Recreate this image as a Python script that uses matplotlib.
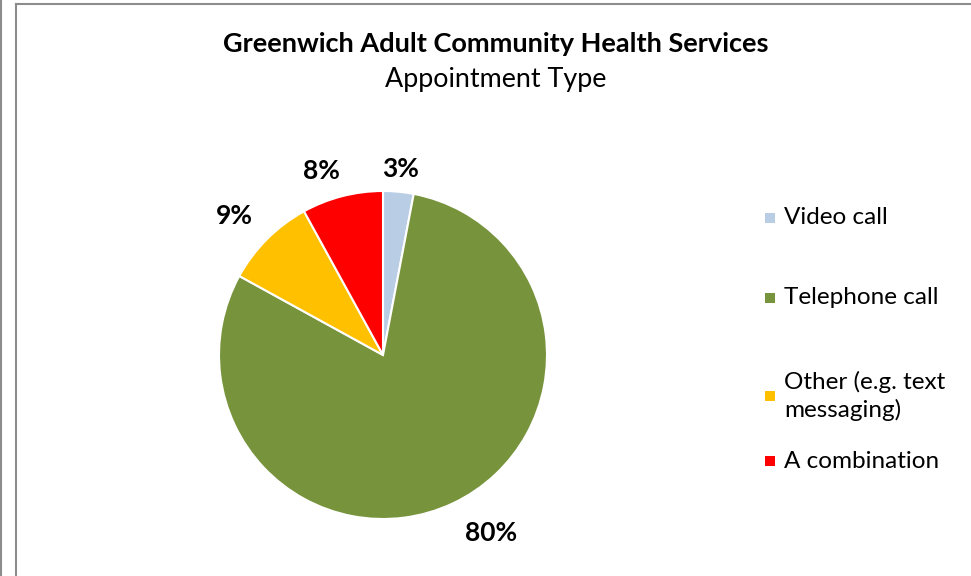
import numpy as np
import matplotlib
matplotlib.use("Agg")
import matplotlib.pyplot as plt
from matplotlib.patches import Rectangle
from matplotlib.lines import Line2D

categories = ["Video call", "Telephone call", "Other (e.g. text\nmessaging)", "A combination"]
values = [3, 80, 9, 8]
pct_labels = ["3%", "80%", "9%", "8%"]
colors = ["#B9CDE5", "#77933C", "#FFC000", "#FF0000"]

FONT = "Lato"
W, H = 971, 576
fig = plt.figure(figsize=(W / 100, H / 100), dpi=100)

# chart border lines
fig.add_artist(Line2D([0.5 / W, 0.5 / W], [0, 1], color="#8c8c8c", lw=1.5, transform=fig.transFigure))
fig.add_artist(Line2D([15.5 / W, 15.5 / W], [0, 1 - 4 / H], color="#8c8c8c", lw=1.5, transform=fig.transFigure))
fig.add_artist(Line2D([15.5 / W, 1], [1 - 4 / H, 1 - 4 / H], color="#8c8c8c", lw=1.5, transform=fig.transFigure))

cx, cy, R = 383, 355, 164
ax = fig.add_axes([(cx - R) / W, (H - cy - R) / H, 2 * R / W, 2 * R / H])
wedges, _ = ax.pie(values, colors=colors, startangle=90, counterclock=False,
                   wedgeprops=dict(edgecolor="white", linewidth=1.5))
ax.set_xlim(-1, 1)
ax.set_ylim(-1, 1)
ax.set_aspect("auto")
ax.axis("off")

# data labels
label_style = {0: (1.14, 0), 1: (1.27, 6), 2: (1.24, 2), 3: (1.18, 4)}
cum = np.cumsum([0] + values)
total = sum(values)
for i, lab in enumerate(pct_labels):
    mid = 90 - (cum[i] + values[i] / 2) / total * 360
    r, dth = label_style[i]
    a = np.deg2rad(mid + dth)
    ax.text(r * np.cos(a), r * np.sin(a), lab, ha="center", va="center",
            fontsize=19, fontweight="bold", family=FONT, clip_on=False)

# titles
fig.text(496 / W, 1 - 44 / H, "Greenwich Adult Community Health Services", ha="center", va="center",
         fontsize=19.5, fontweight="bold", family=FONT)
fig.text(496 / W, 1 - 80 / H, "Appointment Type", ha="center", va="center",
         fontsize=19.4, family=FONT)

# legend
leg_y = [218, 298, 396, 461]
for c, lab, y in zip(colors, categories, leg_y):
    fig.add_artist(Rectangle(((765) / W, 1 - (y + 5) / H), 10 / W, 10 / H, facecolor=c,
                             edgecolor="none", transform=fig.transFigure))
    fig.text(784 / W, 1 - y / H, lab, ha="left", va="center", fontsize=17.5, family=FONT,
             linespacing=1.32)

fig.savefig("out.png", dpi=100)
